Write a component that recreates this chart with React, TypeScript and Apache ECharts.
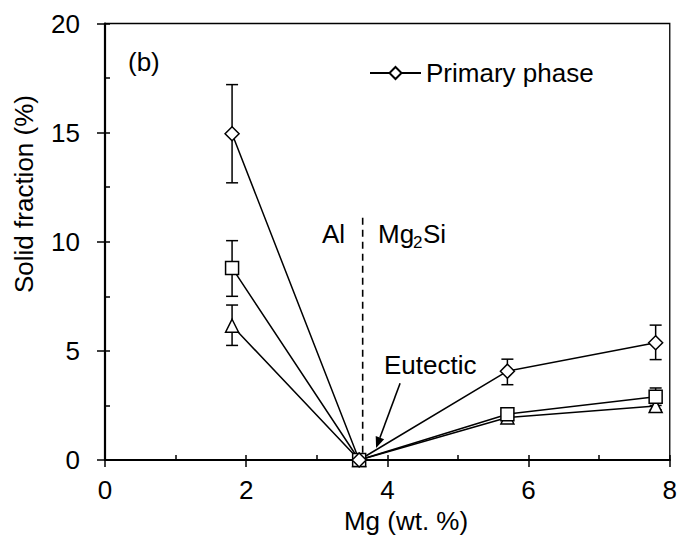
import React, { useEffect, useRef } from "react";
import * as echarts from "echarts";

// ---- data ----
const mgContent = [1.8, 3.6, 5.7, 7.8];

const primaryPhase = [14.95, 0, 4.07, 5.37];
const primaryLow = [12.7, 0, 3.45, 4.6];
const primaryHigh = [17.2, 0, 4.62, 6.18];

const squarePhase = [8.8, 0, 2.1, 2.9];
const squareLow = [7.5, 0, 1.9, 2.5];
const squareHigh = [10.05, 0, 2.3, 3.3];

const trianglePhase = [6.15, 0, 1.95, 2.47];
const triangleLow = [5.25, 0, 1.85, 2.3];
const triangleHigh = [7.1, 0, 2.05, 2.65];

const dividerLine = [3.65, -0.45, 11.1]; // x, yBottom, yTop
const arrowLine = [4.18, 3.52, 3.84, 0.55]; // fromX, fromY, toX, toY

const FONT = "'Liberation Sans', Arial, Helvetica, sans-serif";
const FS = 26;

function errorBars(name: string, low: number[], high: number[]) {
  return {
    type: "custom",
    name,
    z: 1,
    clip: false,
    silent: true,
    data: mgContent.map((x, i) => [x, low[i], high[i]]),
    encode: { x: 0, y: [1, 2] },
    renderItem: (params: any, api: any) => {
      const lo = api.coord([api.value(0), api.value(1)]);
      const hi = api.coord([api.value(0), api.value(2)]);
      if (Math.abs(lo[1] - hi[1]) < 0.5) return { type: "group", children: [] };
      const w = 6;
      const style = { stroke: "#000", lineWidth: 1.5, fill: "none" };
      return {
        type: "group",
        children: [
          { type: "line", shape: { x1: hi[0], y1: hi[1], x2: lo[0], y2: lo[1] }, style },
          { type: "line", shape: { x1: hi[0] - w, y1: hi[1], x2: hi[0] + w, y2: hi[1] }, style },
          { type: "line", shape: { x1: lo[0] - w, y1: lo[1], x2: lo[0] + w, y2: lo[1] }, style },
        ],
      };
    },
  };
}

function lineSeries(name: string, values: number[], symbol: string, size: number) {
  return {
    type: "line",
    name,
    data: mgContent.map((x, i) => [x, values[i]]),
    symbol,
    symbolSize: size,
    showAllSymbol: true,
    clip: false,
    z: 3,
    lineStyle: { color: "#000", width: 1.5 },
    itemStyle: { color: "#fff", borderColor: "#000", borderWidth: 1.5 },
  };
}

export default function App() {
  const ref = useRef<HTMLDivElement>(null);
  useEffect(() => {
    if (!ref.current) return;
    const chart = echarts.init(ref.current, undefined, { renderer: "svg" });
    const textStyle = { fontFamily: FONT, fontSize: FS, fill: "#000" };
    chart.setOption({
      animation: false,
      backgroundColor: "#fff",
      grid: {
        left: 105,
        right: 10,
        top: 23.5,
        bottom: 76,
        show: true,
        borderColor: "#000",
        borderWidth: 1.3,
        backgroundColor: "transparent",
      },
      legend: {
        data: ["Primary phase"],
        left: 369,
        top: 60,
        padding: 0,
        itemWidth: 51,
        itemHeight: 15,
        textStyle: { fontFamily: FONT, fontSize: FS, color: "#000" },
        selectedMode: false,
      },
      xAxis: [
        {
          type: "value",
          min: 0,
          max: 8,
          interval: 2,
          position: "bottom",
          axisLine: { show: true, lineStyle: { color: "#000", width: 2.2 } },
          axisTick: { show: true, inside: false, length: 7, lineStyle: { color: "#000", width: 1.5 } },
          axisLabel: { margin: 17, color: "#000", fontFamily: FONT, fontSize: FS },
          splitLine: { show: false },
        },
        {
          type: "value",
          min: 0,
          max: 8,
          interval: 1,
          position: "bottom",
          axisLine: { show: false },
          axisTick: { show: true, inside: true, length: 5, lineStyle: { color: "#000", width: 1.5 } },
          axisLabel: { show: false },
          splitLine: { show: false },
        },
      ],
      yAxis: [
        {
          type: "value",
          min: 0,
          max: 20,
          interval: 5,
          position: "left",
          axisLine: { show: true, lineStyle: { color: "#000", width: 2.2 } },
          axisTick: { show: true, inside: false, length: 8, lineStyle: { color: "#000", width: 1.5 } },
          axisLabel: { margin: 25, color: "#000", fontFamily: FONT, fontSize: FS },
          splitLine: { show: false },
        },
        {
          type: "value",
          min: 0,
          max: 20,
          interval: 2.5,
          position: "left",
          axisLine: { show: false },
          axisTick: { show: true, inside: true, length: 5, lineStyle: { color: "#000", width: 1.5 } },
          axisLabel: { show: false },
          splitLine: { show: false },
        },
      ],
      series: [
        errorBars("err-triangle", triangleLow, triangleHigh),
        errorBars("err-square", squareLow, squareHigh),
        errorBars("err-primary", primaryLow, primaryHigh),
        {
          type: "custom",
          name: "divider",
          z: 1,
          clip: false,
          silent: true,
          data: [dividerLine],
          encode: { x: 0, y: [1, 2] },
          renderItem: (params: any, api: any) => {
            const b = api.coord([api.value(0), api.value(1)]);
            const t = api.coord([api.value(0), api.value(2)]);
            return {
              type: "line",
              shape: { x1: t[0], y1: t[1], x2: b[0], y2: b[1] },
              style: { stroke: "#000", lineWidth: 1.6, lineDash: [7, 5] },
            };
          },
        },
        {
          type: "custom",
          name: "arrow",
          z: 4,
          clip: false,
          silent: true,
          data: [arrowLine],
          encode: { x: [0, 2], y: [1, 3] },
          renderItem: (params: any, api: any) => {
            const a = api.coord([api.value(0), api.value(1)]);
            const b = api.coord([api.value(2), api.value(3)]);
            const dx = b[0] - a[0];
            const dy = b[1] - a[1];
            const len = Math.sqrt(dx * dx + dy * dy);
            const ux = dx / len;
            const uy = dy / len;
            const hl = 11;
            const hw = 4.5;
            const bx = b[0] - ux * hl;
            const by = b[1] - uy * hl;
            return {
              type: "group",
              children: [
                {
                  type: "line",
                  shape: { x1: a[0], y1: a[1], x2: bx, y2: by },
                  style: { stroke: "#000", lineWidth: 1.6 },
                },
                {
                  type: "polygon",
                  shape: {
                    points: [
                      [b[0], b[1]],
                      [bx - uy * hw, by + ux * hw],
                      [bx + uy * hw, by - ux * hw],
                    ],
                  },
                  style: { fill: "#000" },
                },
              ],
            };
          },
        },
        lineSeries("Triangle phase", trianglePhase, "triangle", 13),
        lineSeries("Square phase", squarePhase, "rect", 13),
        lineSeries("Primary phase", primaryPhase, "diamond", 14),
      ],
      graphic: [
        { type: "text", left: 128, top: 49, style: { ...textStyle, text: "(b)" } },
        { type: "text", left: 322, top: 221, style: { ...textStyle, text: "Al" } },
        { type: "text", left: 378, top: 221, style: { ...textStyle, text: "Mg" } },
        { type: "text", left: 413, top: 234, style: { ...textStyle, fontSize: 17, text: "2" } },
        { type: "text", left: 423, top: 221, style: { ...textStyle, text: "Si" } },
        { type: "text", left: 384, top: 352, style: { ...textStyle, text: "Eutectic" } },
        {
          type: "text",
          x: 406,
          y: 521,
          style: { ...textStyle, text: "Mg (wt. %)", textAlign: "center", textVerticalAlign: "middle" },
        },
        {
          type: "text",
          x: 24,
          y: 194,
          rotation: Math.PI / 2,
          style: { ...textStyle, text: "Solid fraction (%)", textAlign: "center", textVerticalAlign: "middle" },
        },
      ],
    });
    return () => chart.dispose();
  }, []);
  return (
    <div
      ref={ref}
      style={{ position: "fixed", left: 0, top: 0, width: 680, height: 536, background: "#fff" }}
    />
  );
}
